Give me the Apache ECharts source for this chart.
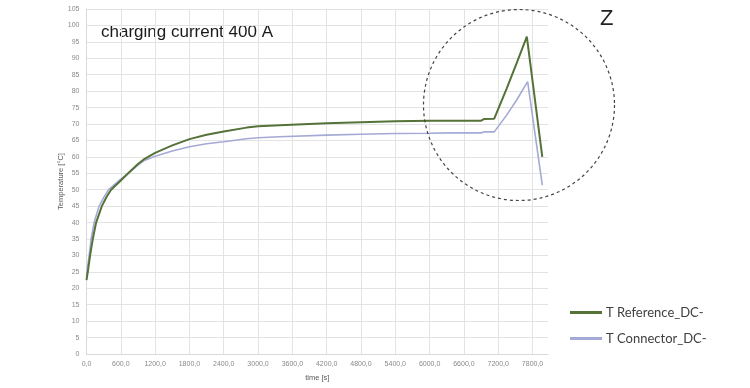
<!DOCTYPE html>
<html>
<head>
<meta charset="utf-8">
<script src="https://cdn.jsdelivr.net/npm/echarts@6/dist/echarts.min.js"></script>
<style>
html,body{margin:0;padding:0;background:#fff;}
#c{width:750px;height:388px;}
</style>
</head>
<body>
<div id="c"></div>
<script>
// time [s]
var timeRef = [0, 23, 63, 110, 168, 268, 350, 430, 600, 729, 900, 1000, 1200, 1500, 1800, 2100, 2400, 2800, 3000, 3380, 4200, 4800, 5400, 6000, 6360, 6900, 6950, 7130, 7347, 7522, 7700, 7970];
var tReference = [22.5, 25, 30, 35, 40, 45, 47.8, 50, 52.8, 55, 57.8, 59.2, 61.2, 63.5, 65.4, 66.7, 67.7, 68.9, 69.3, 69.6, 70.2, 70.5, 70.8, 71.0, 71.0, 71.0, 71.5, 71.6, 80.8, 88.5, 96.6, 60.0];
var timeConn = [0, 15, 47, 80, 133, 220, 300, 385, 600, 729, 900, 1000, 1200, 1500, 1800, 2100, 2400, 2800, 3000, 3380, 4200, 4800, 5400, 6000, 6360, 6900, 6950, 7130, 7347, 7522, 7714, 7970];
var tConnector = [23.5, 26, 30, 35, 40, 45, 47.6, 50, 53.2, 55, 57.5, 58.8, 60.2, 61.8, 63.1, 64.0, 64.6, 65.5, 65.8, 66.1, 66.6, 66.9, 67.1, 67.2, 67.3, 67.3, 67.6, 67.6, 72.7, 77.3, 82.9, 51.4];
var seriesNames = ['T Reference_DC-', 'T Connector_DC-'];
var titleText = 'charging current 400 A';
var zoomMark = 'Z';

function pairs(xs, ys){ return xs.map(function(x,i){ return [x, ys[i]]; }); }

var chart = echarts.init(document.getElementById('c'), null, {renderer:'canvas'});
chart.setOption({
  animation: false,
  backgroundColor: '#fff',
  grid: {left: 86.5, right: 202, top: 9, bottom: 34, containLabel: false},
  xAxis: {
    type: 'value', min: 0, max: 8070, interval: 600,
    name: 'time [s]', nameLocation: 'middle', nameGap: 20, nameMoveOverlap: false,
    nameTextStyle: {fontSize: 7.5, color: '#595959', fontFamily: 'Liberation Sans'},
    axisLine: {show: true, lineStyle: {color: '#d9d9d9'}},
    axisTick: {show: false},
    axisLabel: {fontSize: 7, color: '#8a8a8a', margin: 7, fontFamily: 'Liberation Sans', showMaxLabel: false,
      formatter: function(v){ return v.toFixed(1).replace('.', ','); }},
    splitLine: {show: true, showMaxLine: false, lineStyle: {color: '#e3e3e3', width: 1}}
  },
  yAxis: {
    type: 'value', min: 0, max: 105, interval: 5,
    name: 'Temperature [°C]', nameLocation: 'middle', nameGap: 22, nameMoveOverlap: false,
    nameTextStyle: {fontSize: 7.5, color: '#595959', fontFamily: 'Liberation Sans'},
    axisLine: {show: true, lineStyle: {color: '#d9d9d9'}},
    axisTick: {show: false},
    axisLabel: {fontSize: 7, color: '#8a8a8a', margin: 7, fontFamily: 'Liberation Sans'},
    splitLine: {show: true, lineStyle: {color: '#e3e3e3', width: 1}}
  },
  legend: {
    orient: 'vertical', left: 565, top: 301, itemWidth: 32, itemHeight: 3, itemGap: 13,
    icon: 'rect',
    textStyle: {fontSize: 13, color: '#404040', fontFamily: 'Lato', padding: [0,0,0,-1]},
    data: seriesNames
  },
  graphic: [
    {type: 'text', left: 101, top: 24, style: {text: titleText, fontSize: 17, fontFamily: 'Liberation Sans', fill: '#1a1a1a'}},
    {type: 'text', left: 600, top: 8, style: {text: zoomMark, fontSize: 22, fontFamily: 'Liberation Sans', fill: '#222'}},
    {type: 'circle', shape: {cx: 519, cy: 105, r: 95.5}, style: {fill: 'none', stroke: '#444', lineWidth: 1.2, lineDash: [3, 3]}, z: 10}
  ],
  series: [
    {name: seriesNames[0], type: 'line', data: pairs(timeRef, tReference), showSymbol: false, symbol: 'none',
     lineStyle: {color: '#557239', width: 2}, itemStyle: {color: '#557239'}, z: 3},
    {name: seriesNames[1], type: 'line', data: pairs(timeConn, tConnector), showSymbol: false, symbol: 'none',
     lineStyle: {color: '#a4aad5', width: 1.6}, itemStyle: {color: '#a4aad5'}, z: 2}
  ]
});
</script>
</body>
</html>
